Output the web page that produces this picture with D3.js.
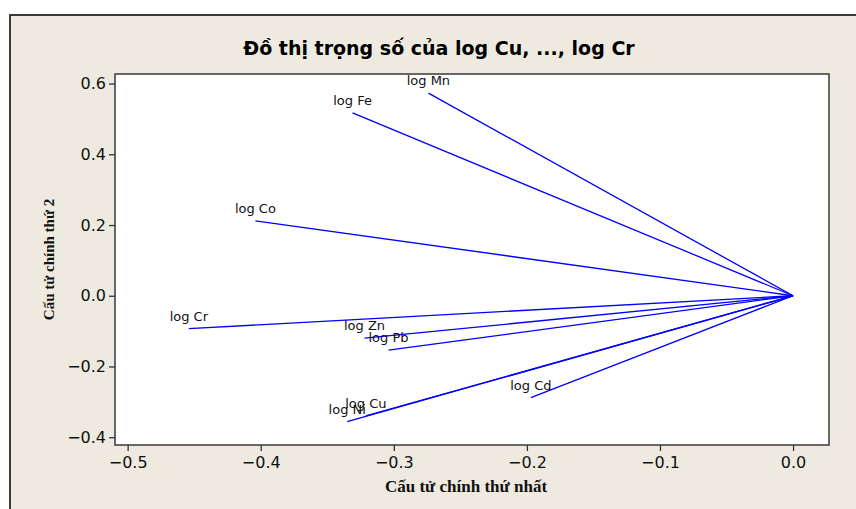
<!DOCTYPE html>
<html><head><meta charset="utf-8">
<script src="https://cdn.jsdelivr.net/npm/d3@7"></script>
<style>body{margin:0;background:#fff;} svg{display:block;}</style>
</head><body>
<svg id="chart" width="856" height="509"></svg>
<script>
const labels = ["log Mn","log Fe","log Co","log Cr","log Zn","log Pb","log Cd","log Cu","log Ni"];
const pc1 = [-0.274,-0.331,-0.404,-0.454,-0.322,-0.304,-0.197,-0.321,-0.335];
const pc2 = [0.573,0.517,0.212,-0.093,-0.120,-0.154,-0.288,-0.340,-0.356];
const xTicks = [-0.5,-0.4,-0.3,-0.2,-0.1,0.0];
const yTicks = [-0.4,-0.2,0.0,0.2,0.4,0.6];
const title = "Đồ thị trọng số của log Cu, ..., log Cr";
const xTitle = "Cấu tử chính thứ nhất";
const yTitle = "Cấu tử chính thứ 2";

const svg = d3.select("#chart");
// outer panel
svg.append("rect").attr("x",10).attr("y",15).attr("width",900).attr("height",600)
  .attr("fill","#EEEAE0").attr("stroke","#3a3a3a").attr("stroke-width",2);

const L=115, T=74, R=829, B=445;
const x = d3.scaleLinear().domain([-0.5095,0.027]).range([L,R]);
const y = d3.scaleLinear().domain([-0.422,0.627]).range([B,T]);

svg.append("rect").attr("x",L).attr("y",T).attr("width",R-L).attr("height",B-T)
  .attr("fill","#fff");

const fmt = d3.format(".1f");
const xAxis = svg.append("g").attr("transform",`translate(0,${B})`)
  .call(d3.axisBottom(x).tickValues(xTicks).tickFormat(fmt).tickSize(6).tickPadding(6));
const yAxis = svg.append("g").attr("transform",`translate(${L},0)`)
  .call(d3.axisLeft(y).tickValues(yTicks).tickFormat(fmt).tickSize(6).tickPadding(3));
[xAxis,yAxis].forEach(a=>{
  a.select(".domain").remove();
  a.selectAll("line").attr("stroke","#333").attr("stroke-width",1.3);
  a.selectAll("text").attr("font-family","DejaVu Sans").attr("font-size",16).attr("fill","#111");
});

// lines
const data = labels.map((l,i)=>({l, px:pc1[i], py:pc2[i]}));
svg.append("g").selectAll("line").data(data).join("line")
  .attr("x1",x(0)).attr("y1",y(0))
  .attr("x2",d=>x(d.px)).attr("y2",d=>y(d.py))
  .attr("stroke","#0000FF").attr("stroke-width",1.3);
svg.append("g").selectAll("text").data(data).join("text")
  .attr("x",d=>x(d.px)).attr("y",d=>y(d.py)-8)
  .attr("text-anchor","middle")
  .attr("font-family","DejaVu Sans").attr("font-size",13).attr("fill","#111")
  .text(d=>d.l);

// plot border
svg.append("rect").attr("x",L).attr("y",T).attr("width",R-L).attr("height",B-T)
  .attr("fill","none").attr("stroke","#3a3a3a").attr("stroke-width",1.5);

svg.append("text").attr("x",439).attr("y",55).attr("text-anchor","middle")
  .attr("font-family","DejaVu Sans").attr("font-weight","bold").attr("font-size",19)
  .attr("fill","#000").text(title);
svg.append("text").attr("x",466).attr("y",492).attr("text-anchor","middle")
  .attr("font-family","Liberation Serif").attr("font-weight","bold").attr("font-size",17)
  .attr("fill","#111").text(xTitle);
svg.append("text").attr("transform",`translate(54,${(T+B)/2}) rotate(-90)`).attr("text-anchor","middle")
  .attr("font-family","Liberation Serif").attr("font-weight","bold").attr("font-size",15)
  .attr("fill","#111").text(yTitle);
</script>
</body></html>
